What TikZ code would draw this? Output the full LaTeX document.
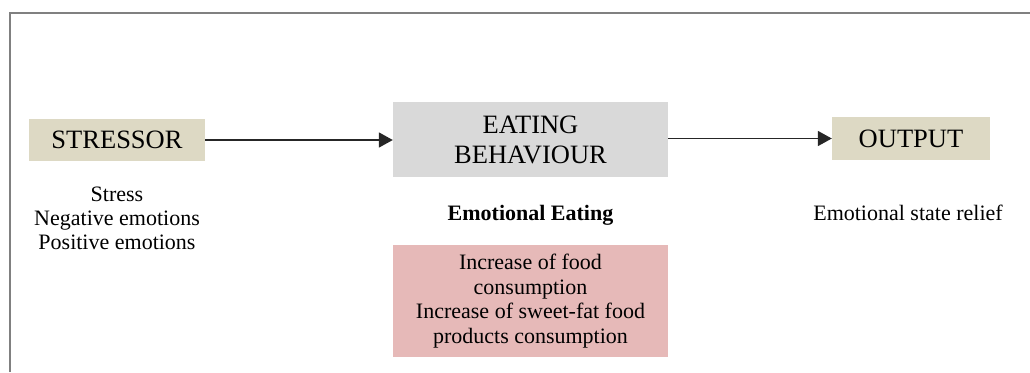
\documentclass[tikz,border=0pt]{standalone}
\usepackage{fontspec}
\setmainfont{Liberation Serif}
\usetikzlibrary{arrows.meta}
\definecolor{tanbox}{HTML}{DDD9C4}
\definecolor{graybox}{HTML}{D9D9D9}
\definecolor{pinkbox}{HTML}{E6B9B8}
\definecolor{framegray}{HTML}{808080}
\tikzset{
  box/.style={rectangle, inner sep=0pt, align=center, font=\fontsize{26.5}{30}\selectfont},
  desc/.style={inner sep=0pt, align=center, font=\fontsize{22}{24}\selectfont},
  conn/.style={line width=1.8pt, draw=black!85, -{Triangle[length=14pt,width=15pt]}},
}
\begin{document}
\begin{tikzpicture}[x=1pt,y=-1pt]
\useasboundingbox (0,0) rectangle (1030,372);
\draw[framegray, line width=2pt] (10,372) -- (10,13) -- (1030,13);
\node[box, fill=tanbox, minimum width=176pt, minimum height=42pt] (stressor) at (117,140) {STRESSOR};
\node[box, fill=graybox, minimum width=275pt, minimum height=75pt] (eating) at (530.5,139.5) {EATING\\BEHAVIOUR};
\node[box, fill=tanbox, minimum width=158pt, minimum height=43pt] (output) at (911,138.5) {OUTPUT};
\node[box, fill=pinkbox, minimum width=275pt, minimum height=112pt, font=\fontsize{22}{24.6}\selectfont] (effects) at (530.5,301) {Increase of food\\consumption\\Increase of sweet-fat food\\products consumption};
\node[desc] (stresslist) at (117,218) {Stress\\Negative emotions\\Positive emotions};
\node[desc, font=\fontsize{22}{24}\selectfont\bfseries] (emoeat) at (530.5,215) {Emotional Eating};
\node[desc] (relief) at (908,213) {Emotional state relief};
\draw[conn] (stressor.east) -- (eating.west |- stressor.east);
\draw[conn] (eating.east |- output.west) -- (output.west);
\end{tikzpicture}
\end{document}
